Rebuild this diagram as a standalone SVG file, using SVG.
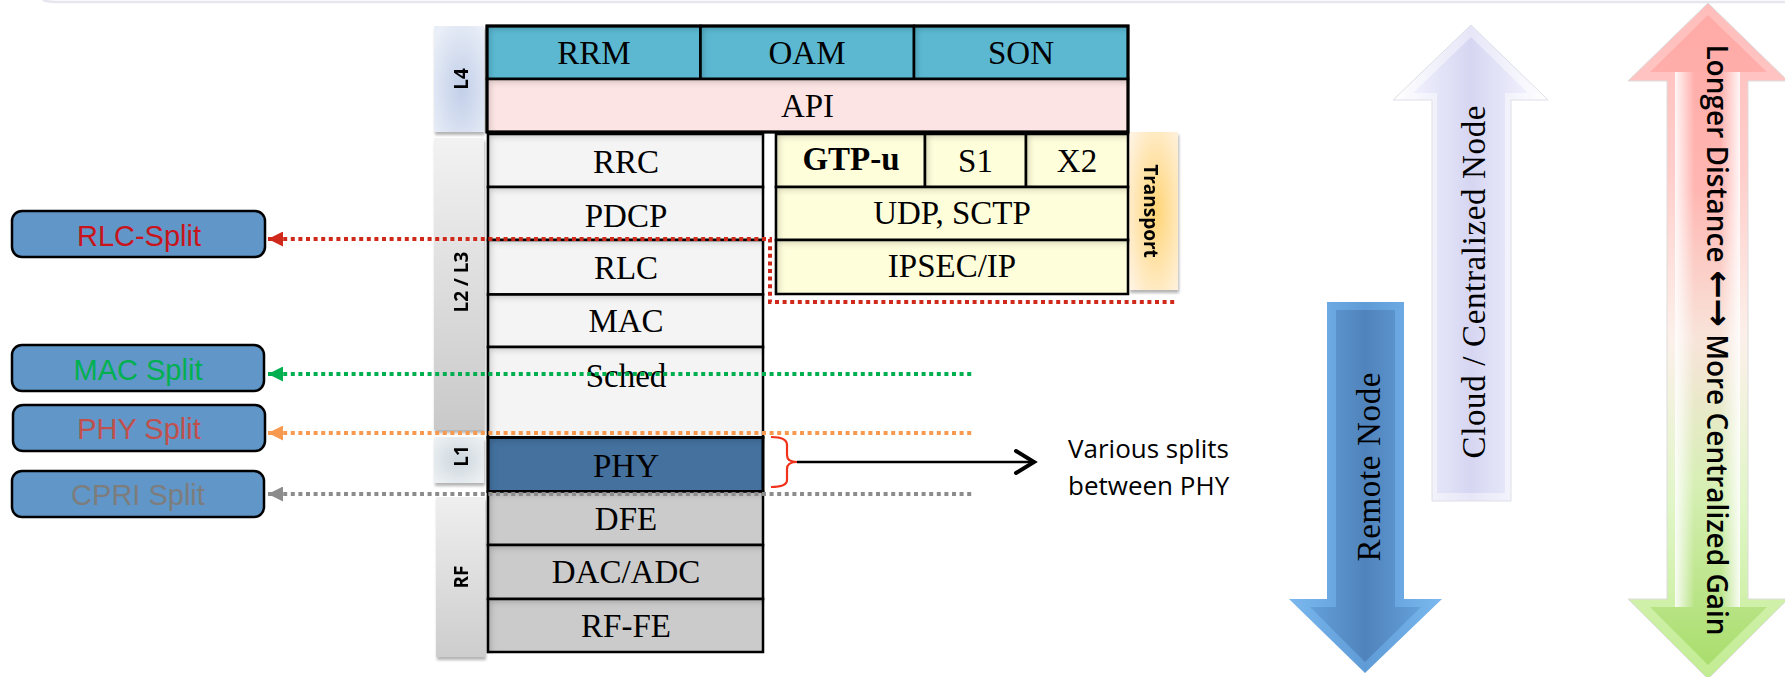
<svg xmlns="http://www.w3.org/2000/svg" width="1785" height="677" viewBox="0 0 1785 677">
  <style>
    .cell { stroke: #000; stroke-width: 2.5; filter: url(#inset); }
    .teal { fill: #5bb8d1; }
    .pink { fill: #fde4e4; }
    .light { fill: #f4f4f4; }
    .grey { fill: #cbcbcb; }
    .phy { fill: #44719f; stroke-width: 3; }
    .yellow { fill: #fffedb; }
    .serif { font-family: "Liberation Serif", "DejaVu Serif", serif; font-size: 33px; text-anchor: middle; fill: #000; }
    .tabtxt { font-family: "Open Sans", "DejaVu Sans", sans-serif; font-weight: 700; font-size: 19px; text-anchor: middle; fill: #000; }
    .tab { filter: url(#drop); }
    .splitbox { fill: #6096c8; stroke: #000; stroke-width: 2.5; }
    .split { font-family: "Liberation Sans", Arial, sans-serif; font-size: 29px; text-anchor: middle; }
    .dot { fill: none; stroke-width: 4; stroke-dasharray: 4 3.6; }
    .note { font-family: "Open Sans", "DejaVu Sans", sans-serif; font-size: 26px; fill: #000; }
    .bigserif { font-family: "Liberation Serif", "DejaVu Serif", serif; font-size: 33px; text-anchor: middle; fill: #000; }
  </style>
  <defs>
    <filter id="inset" x="-0.2" y="-0.4" width="1.4" height="1.8">
      <feComponentTransfer in="SourceAlpha" result="inv"><feFuncA type="table" tableValues="1 0"/></feComponentTransfer>
      <feGaussianBlur in="inv" stdDeviation="3" result="blur"/>
      <feOffset in="blur" dx="4" dy="4" result="off"/>
      <feFlood flood-color="#000" flood-opacity="0.4"/>
      <feComposite in2="off" operator="in" result="sh"/>
      <feComposite in="sh" in2="SourceAlpha" operator="in" result="ish"/>
      <feMerge><feMergeNode in="SourceGraphic"/><feMergeNode in="ish"/></feMerge>
    </filter>
    <filter id="drop" x="-0.3" y="-0.2" width="1.6" height="1.4">
      <feGaussianBlur in="SourceAlpha" stdDeviation="1.5"/>
      <feOffset dx="1" dy="3"/>
      <feComponentTransfer><feFuncA type="linear" slope="0.3"/></feComponentTransfer>
      <feMerge><feMergeNode/><feMergeNode in="SourceGraphic"/></feMerge>
    </filter>
    <radialGradient id="gL4" cx="0.55" cy="0.6" r="0.7"><stop offset="0" stop-color="#c2cfe9"/><stop offset="1" stop-color="#e9eef7"/></radialGradient>
    <linearGradient id="gL23" x1="0" y1="0" x2="0" y2="1"><stop offset="0" stop-color="#f2f2f2"/><stop offset="1" stop-color="#c9c9c9"/></linearGradient>
    <radialGradient id="gL1" cx="0.5" cy="0.5" r="0.7"><stop offset="0" stop-color="#cdd7de"/><stop offset="1" stop-color="#eff2f4"/></radialGradient>
    <linearGradient id="gRF" x1="0" y1="0" x2="0" y2="1"><stop offset="0" stop-color="#efefef"/><stop offset="1" stop-color="#cdcdcd"/></linearGradient>
    <radialGradient id="gTr" cx="0.55" cy="0.5" r="0.7"><stop offset="0" stop-color="#ffd475"/><stop offset="1" stop-color="#fff3e2"/></radialGradient>

    <linearGradient id="blueOut" x1="0" y1="0" x2="1" y2="0"><stop offset="0" stop-color="#7ab8ef"/><stop offset="0.5" stop-color="#5f9bd6"/><stop offset="1" stop-color="#7ab8ef"/></linearGradient>
    <linearGradient id="blueIn" x1="0" y1="0" x2="1" y2="0"><stop offset="0" stop-color="#64a0da"/><stop offset="0.5" stop-color="#5083bb"/><stop offset="1" stop-color="#64a0da"/></linearGradient>
    <linearGradient id="cloudOut" x1="0" y1="0" x2="1" y2="0"><stop offset="0" stop-color="#ffffff"/><stop offset="0.5" stop-color="#e6e6f8"/><stop offset="1" stop-color="#ffffff"/></linearGradient>
    <linearGradient id="cloudIn" x1="0" y1="0" x2="1" y2="0"><stop offset="0" stop-color="#f0f0fd"/><stop offset="0.5" stop-color="#d6d6f2"/><stop offset="1" stop-color="#f0f0fd"/></linearGradient>
    <linearGradient id="dblOut" gradientUnits="userSpaceOnUse" x1="0" y1="0" x2="0" y2="677"><stop offset="0" stop-color="#ffbdbb"/><stop offset="0.25" stop-color="#ffcdca"/><stop offset="0.5" stop-color="#fcf0ea"/><stop offset="0.75" stop-color="#e0f6c6"/><stop offset="1" stop-color="#c2ec92"/></linearGradient>
    <linearGradient id="dblIn" gradientUnits="userSpaceOnUse" x1="0" y1="0" x2="0" y2="677"><stop offset="0" stop-color="#ffa9a6"/><stop offset="0.28" stop-color="#ffb6b2"/><stop offset="0.5" stop-color="#f8e4da"/><stop offset="0.72" stop-color="#d6efb4"/><stop offset="1" stop-color="#a6dc68"/></linearGradient>
    <linearGradient id="shine" x1="0" y1="0" x2="1" y2="0"><stop offset="0" stop-color="#fff" stop-opacity="0.9"/><stop offset="0.3" stop-color="#fff" stop-opacity="0"/><stop offset="0.7" stop-color="#fff" stop-opacity="0"/><stop offset="1" stop-color="#fff" stop-opacity="0.9"/></linearGradient>

    <marker id="headRed" markerUnits="userSpaceOnUse" viewBox="0 0 15 15" markerWidth="15" markerHeight="15" refX="15" refY="7.5" orient="auto-start-reverse"><path d="M0,0 L15,7.5 L0,15 z" fill="#d0281a"/></marker>
    <marker id="headGreen" markerUnits="userSpaceOnUse" viewBox="0 0 15 15" markerWidth="15" markerHeight="15" refX="15" refY="7.5" orient="auto-start-reverse"><path d="M0,0 L15,7.5 L0,15 z" fill="#00b050"/></marker>
    <marker id="headOrange" markerUnits="userSpaceOnUse" viewBox="0 0 15 15" markerWidth="15" markerHeight="15" refX="15" refY="7.5" orient="auto-start-reverse"><path d="M0,0 L15,7.5 L0,15 z" fill="#f79a4f"/></marker>
    <marker id="headGray" markerUnits="userSpaceOnUse" viewBox="0 0 15 15" markerWidth="15" markerHeight="15" refX="15" refY="7.5" orient="auto-start-reverse"><path d="M0,0 L15,7.5 L0,15 z" fill="#8c8c8c"/></marker>
  </defs>

  <rect width="1785" height="677" fill="#fff"/>
  <!-- faint frame edge along the top -->
  <path d="M43,0 Q47,2 56,2 H1785" fill="none" stroke="#e6e6ee" stroke-width="2.5"/>

  <!-- layer tabs -->
  <g id="tab-l4" class="tab">
    <rect x="434" y="26" width="50" height="106" fill="url(#gL4)"/>
    <text class="tabtxt" transform="translate(468,79) rotate(-90)">L4</text>
  </g>
  <g id="tab-l2l3" class="tab">
    <rect x="434" y="138" width="50" height="292" fill="url(#gL23)"/>
    <text class="tabtxt" transform="translate(468,282) rotate(-90)">L2 / L3</text>
  </g>
  <g id="tab-l1" class="tab">
    <rect x="434" y="437" width="50" height="46" fill="url(#gL1)"/>
    <text class="tabtxt" transform="translate(468,456) rotate(-90)">L1</text>
  </g>
  <g id="tab-rf" class="tab">
    <rect x="436" y="497" width="49" height="160" fill="url(#gRF)"/>
    <text class="tabtxt" transform="translate(468,577) rotate(-90)">RF</text>
  </g>
  <g id="tab-transport" class="tab">
    <rect x="1129" y="132" width="49" height="158" fill="url(#gTr)"/>
    <text class="tabtxt" transform="translate(1144,211) rotate(90)">Transport</text>
  </g>

  <!-- L4 applications -->
  <g id="rrm">
    <rect class="cell teal" x="487" y="26" width="213.5" height="53"/>
    <text class="serif" x="594" y="64">RRM</text>
  </g>
  <g id="oam">
    <rect class="cell teal" x="700.5" y="26" width="213.5" height="53"/>
    <text class="serif" x="807" y="64">OAM</text>
  </g>
  <g id="son">
    <rect class="cell teal" x="914" y="26" width="214" height="53"/>
    <text class="serif" x="1021" y="64">SON</text>
  </g>
  <g id="api">
    <rect class="cell pink" x="487" y="79" width="641" height="53"/>
    <text class="serif" x="807.5" y="117">API</text>
  </g>
  <rect x="487" y="26" width="641" height="106" fill="none" stroke="#000" stroke-width="3"/>

  <!-- protocol stack -->
  <g id="rrc">
    <rect class="cell light" x="488" y="134" width="275" height="53"/>
    <text class="serif" x="626" y="173">RRC</text>
  </g>
  <g id="pdcp">
    <rect class="cell light" x="488" y="187" width="275" height="53"/>
    <text class="serif" x="626" y="227">PDCP</text>
  </g>
  <g id="rlc">
    <rect class="cell light" x="488" y="240" width="275" height="54.5"/>
    <text class="serif" x="626" y="279">RLC</text>
  </g>
  <g id="mac">
    <rect class="cell light" x="488" y="294.5" width="275" height="52.5"/>
    <text class="serif" x="626" y="332">MAC</text>
  </g>
  <g id="sched">
    <rect class="cell light" x="488" y="347" width="275" height="90.5"/>
    <text class="serif" x="626" y="387">Sched</text>
  </g>
  <g id="phy">
    <rect class="cell phy" x="488" y="437.5" width="275" height="54"/>
    <text class="serif" x="626" y="477" fill="#111">PHY</text>
  </g>
  <g id="dfe">
    <rect class="cell grey" x="488" y="491.5" width="275" height="53.5"/>
    <text class="serif" x="626" y="530">DFE</text>
  </g>
  <g id="dac-adc">
    <rect class="cell grey" x="488" y="545" width="275" height="54"/>
    <text class="serif" x="626" y="583">DAC/ADC</text>
  </g>
  <g id="rf-fe">
    <rect class="cell grey" x="488" y="599" width="275" height="53"/>
    <text class="serif" x="626" y="637">RF-FE</text>
  </g>

  <!-- transport stack -->
  <g id="gtp-u">
    <rect class="cell yellow" x="776" y="134" width="149" height="53"/>
    <text class="serif" x="851" y="170" font-size="24" font-weight="700">GTP-u</text>
  </g>
  <g id="s1">
    <rect class="cell yellow" x="925" y="134" width="101" height="53"/>
    <text class="serif" x="975.5" y="172">S1</text>
  </g>
  <g id="x2">
    <rect class="cell yellow" x="1026" y="134" width="102" height="53"/>
    <text class="serif" x="1077" y="172">X2</text>
  </g>
  <g id="udp-sctp">
    <rect class="cell yellow" x="776" y="187" width="352" height="53"/>
    <text class="serif" x="952" y="224">UDP, SCTP</text>
  </g>
  <g id="ipsec-ip">
    <rect class="cell yellow" x="776" y="240" width="352" height="54"/>
    <text class="serif" x="952" y="277">IPSEC/IP</text>
  </g>

  <!-- split option boxes -->
  <g id="rlc-split">
    <rect class="splitbox" x="12" y="211" width="253" height="46" rx="10"/>
    <text class="split" x="139" y="246" fill="#c8141a">RLC-Split</text>
  </g>
  <g id="mac-split">
    <rect class="splitbox" x="12" y="345" width="252" height="46" rx="10"/>
    <text class="split" x="138" y="380" fill="#00b050">MAC Split</text>
  </g>
  <g id="phy-split">
    <rect class="splitbox" x="13" y="405" width="252" height="46" rx="10"/>
    <text class="split" x="139" y="439" fill="#c0504d">PHY Split</text>
  </g>
  <g id="cpri-split">
    <rect class="splitbox" x="12" y="471" width="252" height="46" rx="10"/>
    <text class="split" x="138" y="505" fill="#7d7d7d">CPRI Split</text>
  </g>

  <!-- note on PHY splits -->
  <g id="phy-note">
    <text class="note" x="1068" y="458">Various splits</text>
    <text class="note" x="1068" y="495">between PHY</text>
  </g>

  <!-- remote node arrow -->
  <g id="remote-node">
    <polygon points="1327,302 1404,302 1404,599 1442,599 1365,673 1289,599 1327,599" fill="url(#blueOut)"/>
    <polygon points="1336,310 1395,310 1395,607 1421,607 1365,662 1310,607 1336,607" fill="url(#blueIn)"/>
    <text class="bigserif" transform="translate(1380,467) rotate(-90)" textLength="189" lengthAdjust="spacing">Remote Node</text>
  </g>

  <!-- centralized node arrow -->
  <g id="central-node">
    <polygon points="1471,25 1548,100 1511,100 1511,501 1432,501 1432,100 1393,100" fill="url(#cloudOut)" stroke="#dedee8" stroke-width="1"/>
    <polygon points="1471,37 1528,93 1505,93 1505,493 1437,493 1437,93 1413,93" fill="url(#cloudIn)"/>
    <text class="bigserif" transform="translate(1485,282) rotate(-90)" textLength="353" lengthAdjust="spacing">Cloud / Centralized Node</text>
  </g>

  <!-- trade-off double arrow -->
  <g id="trade-off">
    <polygon points="1708,3 1788,81 1748,81 1748,599 1788,599 1708,679 1628,599 1667,599 1667,81 1628,81" fill="url(#dblOut)" stroke="#dcdcdc" stroke-width="1"/>
    <polygon points="1708,15 1767,72 1740,72 1740,607 1767,607 1708,665 1650,607 1675,607 1675,72 1650,72" fill="url(#dblIn)"/>
    <rect x="1675" y="72" width="65" height="535" fill="url(#shine)"/>
    <text transform="translate(1707,340) rotate(90)" font-family="'Open Sans', 'DejaVu Sans', sans-serif" font-weight="600" font-size="28" text-anchor="middle" fill="#000">Longer Distance <tspan font-family="'DejaVu Sans', sans-serif" font-weight="700" font-size="34">←→</tspan> More Centralized Gain</text>
  </g>

  <!-- connectors -->
  <g id="connectors">
    <path class="dot" d="M268,239 H770 V302 H1177" stroke="#d0281a" marker-start="url(#headRed)"/>
    <path class="dot" d="M268,374 H973" stroke="#00b050" marker-start="url(#headGreen)"/>
    <path class="dot" d="M268,433 H973" stroke="#f79a4f" marker-start="url(#headOrange)"/>
    <path class="dot" d="M268,494 H973" stroke="#8c8c8c" marker-start="url(#headGray)"/>
    <path d="M771,437 Q787,437 787,445 V455 Q787,462 797,462 Q787,462 787,469 V480 Q787,487 771,487" fill="none" stroke="#f0321c" stroke-width="2.2"/>
    <path d="M797,462 H1033" fill="none" stroke="#000" stroke-width="2.5"/>
    <polyline points="1016,451 1034,462 1016,473" fill="none" stroke="#000" stroke-width="4" stroke-linecap="round"/>
  </g>
</svg>
